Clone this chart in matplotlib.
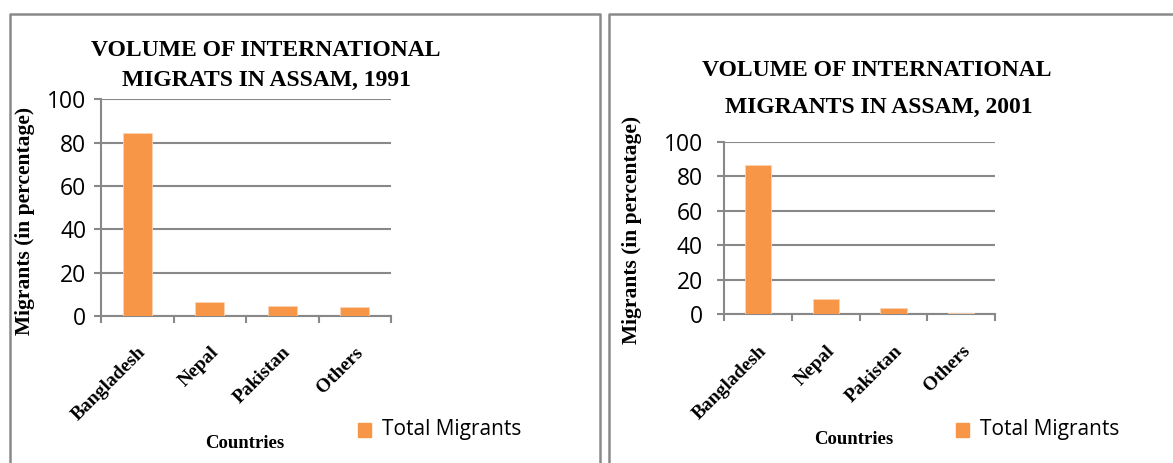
import matplotlib.pyplot as plt
from matplotlib.patches import Rectangle
from matplotlib.lines import Line2D

countries = ["Bangladesh", "Nepal", "Pakistan", "Others"]
migrants_1991 = [84.6, 6.3, 4.4, 4.0]
migrants_2001 = [86.3, 8.9, 3.5, 0.6]
y_ticks = [0, 20, 40, 60, 80, 100]

BAR = "#F79646"
GRID = "#888888"
SERIF = "Liberation Serif"
SANS = "Open Sans"

W, H = 1173, 463
fig = plt.figure(figsize=(W / 100, H / 100), dpi=100)


def px_axes(x0, x1, ytop, ybot):
    return fig.add_axes([x0 / W, 1 - ybot / H, (x1 - x0) / W, (ybot - ytop) / H])


def draw_chart(ax, values, bar_w, ypad):
    x = list(range(len(countries)))
    ax.bar(x, values, width=bar_w, color=BAR, edgecolor="#FBD4B4", linewidth=0.6,
           zorder=3)
    ax.set_xlim(-0.5, len(countries) - 0.5)
    ax.set_ylim(0, 100)
    ax.set_yticks(y_ticks)
    ax.set_yticklabels([str(v) for v in y_ticks], fontname=SANS, fontsize=16.5)
    ax.grid(True, axis="y", color=GRID, linewidth=1.5, zorder=0)
    # category boundaries get the tick marks, labels sit in between
    ax.set_xticks([i - 0.5 for i in range(len(countries) + 1)])
    ax.set_xticklabels([])
    ax.set_xticks(x, minor=True)
    ax.set_xticklabels(countries, minor=True, rotation=45, ha="right",
                       rotation_mode="anchor", fontname=SERIF, fontweight="bold",
                       fontsize=14)
    ax.tick_params(axis="x", which="minor", length=0, pad=20)
    ax.tick_params(axis="x", which="major", length=5, width=1.5, color=GRID)
    ax.tick_params(axis="y", length=5, width=1.5, color=GRID, pad=ypad)
    for side in ["top", "right"]:
        ax.spines[side].set_visible(False)
    for side in ["left", "bottom"]:
        ax.spines[side].set_color(GRID)
        ax.spines[side].set_linewidth(1.5)
    ax.set_facecolor("none")


ax1 = px_axes(101, 391, 99.3, 316)
draw_chart(ax1, migrants_1991, 0.40, 5.5)
ax2 = px_axes(724.3, 995, 141.7, 314.3)
draw_chart(ax2, migrants_2001, 0.39, 10.5)

title_kw = dict(fontname=SERIF, fontweight="bold", fontsize=17, ha="center",
                va="center", color="black")
fig.text(266 / W, 1 - 50 / H, "VOLUME OF INTERNATIONAL", **title_kw)
fig.text(266 / W, 1 - 80 / H, "MIGRATS IN ASSAM, 1991", **title_kw)
fig.text(877 / W, 1 - 70 / H, "VOLUME OF INTERNATIONAL", **title_kw)
fig.text(879 / W, 1 - 107 / H, "MIGRANTS IN ASSAM, 2001", **title_kw)

ylab_kw = dict(fontname=SERIF, fontweight="bold", fontsize=15.5, rotation=90,
               ha="center", va="center")
fig.text(25 / W, 1 - 221 / H, "Migrants (in percentage)", **ylab_kw)
fig.text(632 / W, 1 - 230 / H, "Migrants (in percentage)", **ylab_kw)

xlab_kw = dict(fontname=SERIF, fontweight="bold", fontsize=13.5, ha="center",
               va="center")
fig.text(245 / W, 1 - 443 / H, "Countries", **xlab_kw)
fig.text(854 / W, 1 - 439 / H, "Countries", **xlab_kw)

# legends
for sx, tx in [(358, 382), (956, 980)]:
    fig.patches.append(Rectangle((sx / W, 1 - 437 / H), 13 / W, 14 / H,
                                 transform=fig.transFigure, color=BAR))
    fig.text(tx / W, 1 - 430 / H, "Total Migrants", fontname=SANS, fontsize=15,
             ha="left", va="center")

# panel borders
bord = dict(color="#8a8a8a", linewidth=1.8, transform=fig.transFigure)
for x0, x1 in [(9.5, 599.5), (609, 1180)]:
    fig.lines.append(Line2D([x0 / W, x0 / W, x1 / W, x1 / W],
                            [0, 1 - 14 / H, 1 - 14 / H, 0], **bord))

fig.savefig("out.png", dpi=100)
